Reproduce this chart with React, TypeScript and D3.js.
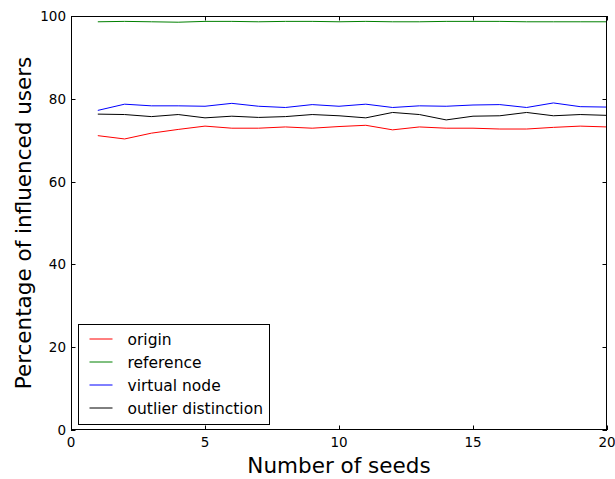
import React, { useEffect, useRef } from 'react'
import * as d3 from 'd3'

const seeds = d3.range(1, 21)
const origin = [71.1, 70.3, 71.7, 72.6, 73.4, 72.9, 72.9, 73.2, 72.9, 73.3, 73.6, 72.5, 73.2, 72.9, 72.9, 72.7, 72.7, 73.1, 73.4, 73.2]
const reference = [98.6, 98.7, 98.6, 98.5, 98.7, 98.7, 98.6, 98.7, 98.7, 98.6, 98.7, 98.6, 98.6, 98.7, 98.7, 98.7, 98.6, 98.6, 98.6, 98.6]
const virtualNode = [77.2, 78.7, 78.3, 78.3, 78.2, 78.9, 78.2, 77.9, 78.6, 78.2, 78.7, 77.9, 78.3, 78.2, 78.5, 78.6, 77.9, 79.0, 78.1, 78.0]
const outlier = [76.3, 76.2, 75.7, 76.2, 75.4, 75.8, 75.5, 75.7, 76.2, 75.9, 75.4, 76.7, 76.2, 74.9, 75.8, 75.9, 76.7, 75.9, 76.2, 76.0]
const xTicks = [0, 5, 10, 15, 20]
const yTicks = [0, 20, 40, 60, 80, 100]

const series = [
    { name: 'origin', color: '#ff0000', values: origin },
    { name: 'reference', color: '#008000', values: reference },
    { name: 'virtual node', color: '#0000ff', values: virtualNode },
    { name: 'outlier distinction', color: '#000000', values: outlier }
]

const width = 615
const height = 479
const margin = { top: 16, right: 8, bottom: 49, left: 71 }
const font = 'DejaVu Sans, sans-serif'

export default function App() {
    const node = useRef<SVGSVGElement>(null)

    useEffect(() => {
        const svg = d3.select(node.current)
        svg.selectAll('*').remove()

        const x = d3.scaleLinear()
            .domain([0, 20])
            .range([margin.left, width - margin.right])

        const y = d3.scaleLinear()
            .domain([0, 100])
            .range([height - margin.bottom, margin.top])

        const [x0, x1] = x.range()
        const [y0, y1] = y.range()
        const tick = 4.5

        // ticks on all four sides, pointing inward
        const tg = svg.append('g').attr('stroke', '#000').attr('stroke-width', 1)
        xTicks.forEach(t => {
            const px = Math.round(x(t)) + 0.5
            tg.append('line').attr('x1', px).attr('x2', px).attr('y1', y0).attr('y2', y0 - tick)
            tg.append('line').attr('x1', px).attr('x2', px).attr('y1', y1).attr('y2', y1 + tick)
        })
        yTicks.forEach(t => {
            const py = Math.round(y(t)) + 0.5
            tg.append('line').attr('x1', x0).attr('x2', x0 + tick).attr('y1', py).attr('y2', py)
            tg.append('line').attr('x1', x1).attr('x2', x1 - tick).attr('y1', py).attr('y2', py)
        })

        const line = d3.line<number>()
            .x((d, i) => x(seeds[i]))
            .y(d => y(d))

        svg.append('g')
            .selectAll('path')
            .data(series)
            .join('path')
            .attr('fill', 'none')
            .attr('stroke', d => d.color)
            .attr('stroke-width', 1)
            .attr('d', d => line(d.values))

        svg.append('rect')
            .attr('x', x0 + 0.5)
            .attr('y', y1 + 0.5)
            .attr('width', x1 - x0 - 1)
            .attr('height', y0 - y1 - 1)
            .attr('fill', 'none')
            .attr('stroke', '#000')
            .attr('stroke-width', 1)

        svg.append('g')
            .selectAll('text')
            .data(xTicks)
            .join('text')
            .attr('x', d => x(d))
            .attr('y', y0 + 17)
            .attr('text-anchor', 'middle')
            .attr('font-family', font)
            .attr('font-size', 13.5)
            .text(d => d)

        svg.append('g')
            .selectAll('text')
            .data(yTicks)
            .join('text')
            .attr('x', x0 - 5)
            .attr('y', d => y(d) + 5)
            .attr('text-anchor', 'end')
            .attr('font-family', font)
            .attr('font-size', 13.5)
            .text(d => d)

        svg.append('text')
            .attr('x', (x0 + x1) / 2)
            .attr('y', height - 6)
            .attr('text-anchor', 'middle')
            .attr('font-family', font)
            .attr('font-size', 21.5)
            .text('Number of seeds')

        svg.append('text')
            .attr('transform', `translate(31,${(y0 + y1) / 2}) rotate(-90)`)
            .attr('text-anchor', 'middle')
            .attr('font-family', font)
            .attr('font-size', 21.5)
            .text('Percentage of influenced users')

        // legend
        const lg = svg.append('g').attr('transform', 'translate(78.5,324.5)')
        lg.append('rect')
            .attr('width', 191)
            .attr('height', 100)
            .attr('fill', '#fff')
            .attr('stroke', '#000')
            .attr('stroke-width', 1)
        series.forEach((s, i) => {
            const ly = 14.5 + i * 23
            lg.append('line')
                .attr('x1', 11).attr('x2', 34)
                .attr('y1', ly).attr('y2', ly)
                .attr('stroke', s.color)
                .attr('stroke-width', 1)
            lg.append('text')
                .attr('x', 49)
                .attr('y', ly + 5.5)
                .attr('font-family', font)
                .attr('font-size', 15.5)
                .text(s.name)
        })
    }, [])

    return (
        <svg ref={node} width={width} height={height} style={{ position: 'absolute', left: 0, top: 0 }} />
    )
}
